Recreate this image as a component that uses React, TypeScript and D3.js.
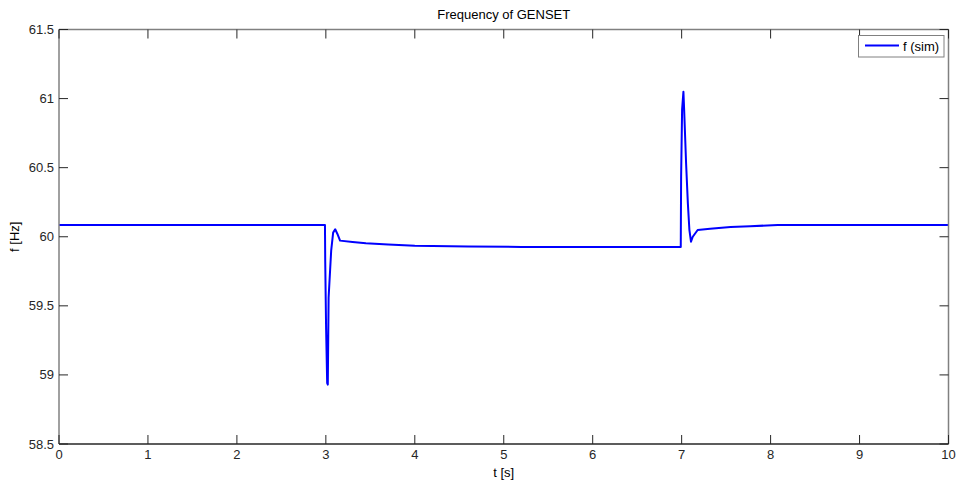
import React from "react";
import * as d3 from "d3";

const timeS = [0, 2.99, 2.993, 3.003, 3.015, 3.022, 3.031, 3.048, 3.06, 3.082, 3.105, 3.13, 3.16, 3.3, 3.45, 3.7, 4.0, 4.6, 5.2, 6.99, 6.994, 7.005, 7.02, 7.028, 7.05, 7.07, 7.087, 7.105, 7.125, 7.18, 7.32, 7.55, 7.77, 8.08, 10];
const freqHz = [60.085, 60.085, 59.82, 59.33, 58.94, 58.93, 59.56, 59.76, 59.9, 60.03, 60.054, 60.02, 59.972, 59.962, 59.953, 59.944, 59.935, 59.93, 59.926, 59.926, 60.435, 60.92, 61.05, 60.92, 60.53, 60.24, 60.05, 59.964, 60.0, 60.049, 60.058, 60.07, 60.076, 60.085, 60.085];
const xTicks = [0, 1, 2, 3, 4, 5, 6, 7, 8, 9, 10];
const yTicks = [58.5, 59, 59.5, 60, 60.5, 61, 61.5];
const title = "Frequency of GENSET";
const xLabel = "t [s]";
const yLabel = "f [Hz]";
const legendLabel = "f (sim)";

export default function App() {
  const W = 958, H = 485;
  const L = 59, R = 948.5, T = 29.5, B = 444;
  const x = d3.scaleLinear().domain([0, 10]).range([L, R]);
  const y = d3.scaleLinear().domain([58.5, 61.5]).range([B, T]);
  const pts = timeS.map((t, i) => [t, freqHz[i]] as [number, number]);
  const line = d3.line<[number, number]>().x(d => x(d[0])).y(d => y(d[1]));
  const font = "'Liberation Sans', Arial, sans-serif";
  const tick = 9;
  const gray = "#808080";
  const dark = "#262626";
  return (
    <svg width={W} height={H} style={{ position: "absolute", left: 0, top: 0, background: "#fff" }} fontFamily={font}>
      <rect x={0} y={0} width={W} height={H} fill="#fff" />
      <path d={line(pts) || ""} fill="none" stroke="#0000ff" strokeWidth={2} strokeLinejoin="round" />
      <line x1={L} x2={R} y1={T} y2={T} stroke={gray} strokeWidth={1.5} />
      <line x1={L} x2={L} y1={T} y2={B} stroke={gray} strokeWidth={1.5} />
      <line x1={R} x2={R} y1={T} y2={B} stroke={gray} strokeWidth={1.5} />
      <line x1={L} x2={R} y1={B} y2={B} stroke={dark} strokeWidth={1.5} />
      {xTicks.map(t => (
        <g key={"x" + t}>
          <line x1={x(t)} x2={x(t)} y1={B} y2={B - tick} stroke={dark} strokeWidth={1} />
          <line x1={x(t)} x2={x(t)} y1={T} y2={T + tick} stroke={dark} strokeWidth={1} />
          <text x={x(t)} y={B + 15} textAnchor="middle" fontSize={13} fill={dark}>{t}</text>
        </g>
      ))}
      {yTicks.map(v => (
        <g key={"y" + v}>
          <line x1={L} x2={L + tick} y1={y(v)} y2={y(v)} stroke={dark} strokeWidth={1} />
          <line x1={R} x2={R - tick} y1={y(v)} y2={y(v)} stroke={dark} strokeWidth={1} />
          <text x={L - 5} y={y(v) + 4.5} textAnchor="end" fontSize={13} fill={dark}>{v}</text>
        </g>
      ))}
      <text x={(L + R) / 2} y={19} textAnchor="middle" fontSize={13} fill="#000">{title}</text>
      <text x={(L + R) / 2} y={477} textAnchor="middle" fontSize={13} fill="#000">{xLabel}</text>
      <text transform={`translate(19,${(T + B) / 2}) rotate(-90)`} textAnchor="middle" fontSize={13} fill="#000">{yLabel}</text>
      <rect x={858.5} y={35.5} width={85.5} height={21.5} fill="#fff" stroke={gray} strokeWidth={1} />
      <line x1={865} x2={899} y1={45.5} y2={45.5} stroke="#0000ff" strokeWidth={2} />
      <text x={903} y={50.5} fontSize={13} fill="#000">{legendLabel}</text>
    </svg>
  );
}
